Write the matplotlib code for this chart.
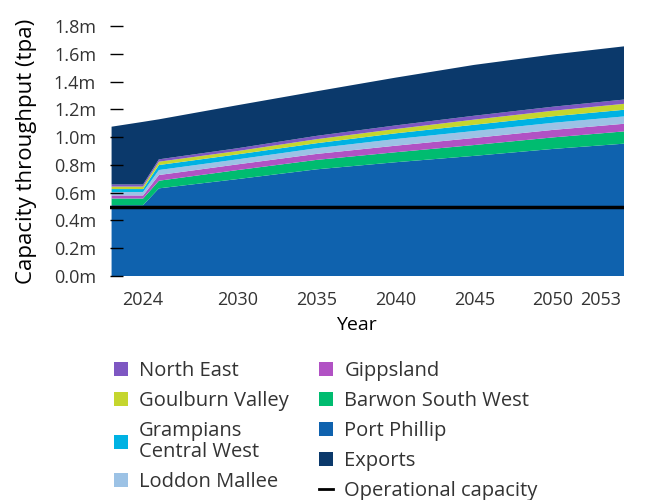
import matplotlib
matplotlib.use('Agg')
import matplotlib.pyplot as plt
from matplotlib.patches import Patch
from matplotlib.lines import Line2D

plt.rcParams['font.family'] = ['Open Sans', 'DejaVu Sans']
TEXT = '#333333'

# values, million tonnes per annum
years = [2022, 2024, 2025, 2030, 2035, 2040, 2045, 2050, 2055]
port_phillip = [0.510, 0.510, 0.631, 0.698, 0.768, 0.819, 0.865, 0.915, 0.957]
barwon_sw = [0.048, 0.048, 0.055, 0.065, 0.068, 0.072, 0.078, 0.083, 0.089]
gippsland = [0.022, 0.022, 0.041, 0.041, 0.043, 0.047, 0.051, 0.054, 0.055]
loddon_mallee = [0.025, 0.025, 0.036, 0.036, 0.041, 0.048, 0.050, 0.051, 0.053]
grampians_cw = [0.021, 0.021, 0.036, 0.036, 0.036, 0.041, 0.045, 0.047, 0.048]
goulburn_valley = [0.018, 0.018, 0.024, 0.024, 0.029, 0.031, 0.037, 0.040, 0.043]
north_east = [0.015, 0.015, 0.017, 0.020, 0.024, 0.026, 0.028, 0.029, 0.031]
exports = [0.416, 0.451, 0.288, 0.310, 0.321, 0.344, 0.366, 0.376, 0.384]
operational_capacity = 0.5

year_ticks = [2024, 2030, 2035, 2040, 2045, 2050, 2053]
y_ticks = [0.0, 0.2, 0.4, 0.6, 0.8, 1.0, 1.2, 1.4, 1.6, 1.8]

series = [
    ('Port Phillip', port_phillip, '#0f62ae'),
    ('Barwon South West', barwon_sw, '#00bc70'),
    ('Gippsland', gippsland, '#b152c4'),
    ('Loddon Mallee', loddon_mallee, '#9cc2e5'),
    ('Grampians\nCentral West', grampians_cw, '#00b2e3'),
    ('Goulburn Valley', goulburn_valley, '#c5d62e'),
    ('North East', north_east, '#7e57c2'),
    ('Exports', exports, '#0b396b'),
]
colors = {name: c for name, _, c in series}

fig = plt.figure(figsize=(6.45, 5), dpi=100)
ax = fig.add_axes([110 / 645, 1 - 276 / 500, 514 / 645, 250 / 500])

ax.stackplot(years, *[vals for _, vals, _ in series],
             colors=[c for _, _, c in series], linewidth=0)
ax.axhline(operational_capacity, color='black', linewidth=2.5, zorder=3)

ax.set_xlim(2021.9, 2054.5)
ax.set_ylim(0, 1.8)
ax.set_yticks(y_ticks)
ax.set_yticklabels(['%.1fm' % v for v in y_ticks])
ax.set_xticks(year_ticks)
ax.set_xticklabels([str(y) for y in year_ticks])

for s in ax.spines.values():
    s.set_visible(False)
ax.tick_params(axis='y', direction='in', length=9, width=1, color='black',
               pad=10, labelsize=13, labelcolor=TEXT)
ax.tick_params(axis='x', length=0, pad=11, labelsize=13, labelcolor=TEXT)
for t in ax.yaxis.get_major_ticks():
    t.tick1line.set_clip_on(False)

ax.set_xlabel('Year', fontsize=14, color='black')
ax.xaxis.set_label_coords(0.48, -0.162)
ax.set_ylabel('Capacity throughput (tpa)', fontsize=16, color='black')
ax.yaxis.set_label_coords(-0.142, 0.5)

# legend: left column 4 items, right column 5 items
order = ['North East', 'Goulburn Valley', 'Grampians\nCentral West', 'Loddon Mallee', None,
         'Gippsland', 'Barwon South West', 'Port Phillip', 'Exports']
handles, labels = [], []
for name in order:
    if name is None:
        handles.append(Patch(facecolor='none', edgecolor='none'))
        labels.append('')
    else:
        handles.append(Patch(facecolor=colors[name], edgecolor='none'))
        labels.append(name)
handles.append(Line2D([0], [0], color='black', linewidth=2))
labels.append('Operational capacity')

leg = fig.legend(handles, labels, ncol=2, loc='upper left',
                 bbox_to_anchor=(104 / 645, 1 - 351 / 500), frameon=False,
                 fontsize=14.5, labelcolor=TEXT, handlelength=0.7, handleheight=0.7,
                 handletextpad=0.55, columnspacing=1.5, labelspacing=0.5, borderpad=0)
for txt in leg.get_texts():
    txt.set_linespacing(1.05)

fig.savefig('out.png', dpi=100)
